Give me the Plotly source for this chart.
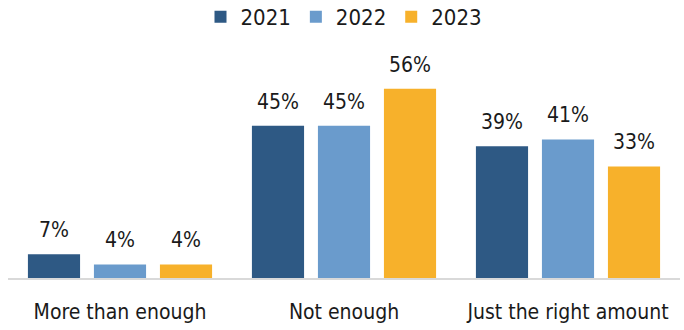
import plotly.graph_objects as go

categories = ["More than enough", "Not enough", "Just the right amount"]
years = ["2021", "2022", "2023"]
values_2021 = [7, 45, 39]
values_2022 = [4, 45, 41]
values_2023 = [4, 56, 33]
colors = ["#2E5984", "#6A9BCC", "#F7B12B"]

FONT = "DejaVu Sans Condensed, DejaVu Sans, sans-serif"
SLOT_PX = 66  # horizontal distance between neighbouring bars within a group

fig = go.Figure()
series = [values_2021, values_2022, values_2023]
for name, vals, col in zip(years, series, colors):
    fig.add_trace(go.Bar(
        name=name, x=categories, y=vals, marker=dict(color=col, line=dict(width=0)),
    ))

# value labels above each bar
for i, vals in enumerate(series):
    for cat, v in zip(categories, vals):
        fig.add_annotation(
            x=cat, y=v, text=f"{v}%", showarrow=False,
            xshift=(i - 1) * SLOT_PX, yshift=10, yanchor="bottom",
            font=dict(family=FONT, size=21, color="#1a1a1a"),
        )

fig.update_layout(
    width=684, height=330,
    margin=dict(l=8, r=4, t=40, b=52, autoexpand=False),
    paper_bgcolor="white", plot_bgcolor="white",
    barmode="group", bargap=0.116, bargroupgap=0.21,
    font=dict(family=FONT, size=21, color="#1a1a1a"),
    legend=dict(orientation="h", x=0.5, xanchor="center", y=1 - 17 / 330, yanchor="middle",
                yref="container", font=dict(family=FONT, size=22), itemwidth=30,
                traceorder="normal"),
    showlegend=True,
)
fig.update_xaxes(showline=True, linecolor="#d9d9d9", linewidth=2, ticks="",
                 ticklabelstandoff=14, tickfont=dict(family=FONT, size=21))
fig.update_yaxes(visible=False, range=[0, 70.4])

fig.write_html("out.html")
